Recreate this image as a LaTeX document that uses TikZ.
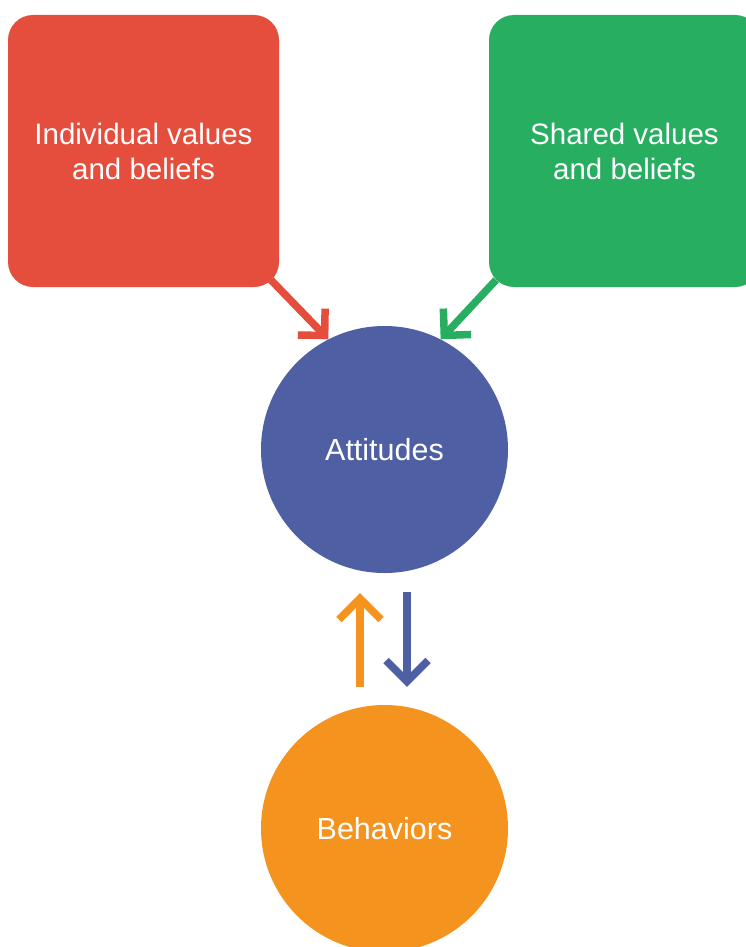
\documentclass[tikz,border=0pt]{standalone}
\usepackage{fontspec}
\setmainfont{Liberation Sans}
\usetikzlibrary{arrows.meta,calc}
\definecolor{cred}{HTML}{E54E3D}
\definecolor{cgreen}{HTML}{27AE60}
\definecolor{cblue}{HTML}{4F5FA4}
\definecolor{corange}{HTML}{F5931F}
\tikzset{
  box/.style={rectangle, rounded corners=25pt, minimum width=271pt, minimum height=272pt, inner sep=0pt, text=white, align=center, font=\fontsize{29.5}{35}\selectfont},
  disc/.style={circle, minimum size=247pt, inner sep=0pt, text=white, font=\fontsize{30.5}{35}\selectfont},
  conn/.style={line width=7.5pt, -{Straight Barb[length=19pt,width=38pt,sharp]}},
  vconn/.style={line width=7.5pt, -{Straight Barb[length=21pt,width=42pt,sharp]}}
}
\begin{document}
\begin{tikzpicture}[x=1pt,y=1pt]
\clip (0,0) rectangle (746,-947);
\fill[white] (0,0) rectangle (746,-947);
\node[box, fill=cred] (ind) at (143.5,-151) {Individual values\\and beliefs};
\node[box, fill=cgreen] (sha) at (624.5,-151) {Shared values\\and beliefs};
\node[disc, fill=cblue] (att) at (384.5,-449.5) {Attitudes};
\node[disc, fill=corange] (beh) at (384.5,-828.5) {Behaviors};
\draw[conn, cred] ($(ind.south east)+(-8.3,7.3)$) -- (att.117);
\draw[conn, cgreen] ($(sha.south west)+(7.3,7.3)$) -- (att.63);
\draw[vconn, corange] ($(beh.north)+(-24.5,18)$) -- ($(att.south)+(-24.5,-20)$);
\draw[vconn, cblue] ($(att.south)+(22.5,-19)$) -- ($(beh.north)+(22.5,18)$);
\end{tikzpicture}
\end{document}
